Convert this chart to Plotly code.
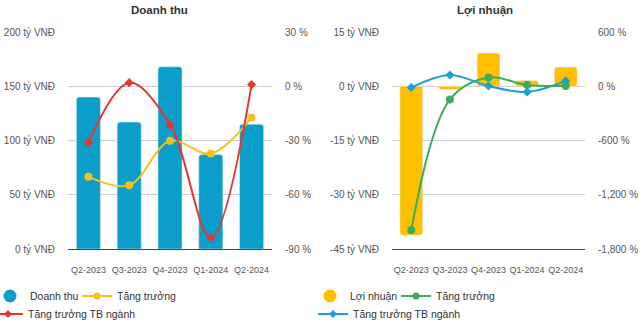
import plotly.graph_objects as go

# Quarterly periods
quarters = ["Q2-2023", "Q3-2023", "Q4-2023", "Q1-2024", "Q2-2024"]

# Revenue panel (tỷ VNĐ and %)
doanh_thu = [140, 117, 168, 87, 115]
tang_truong_dt = [-50.1, -54.7, -30.2, -37.2, -17.3]
tb_nganh_dt = [-31.1, 2.0, -21.2, -83.8, 0.9]

# Profit panel (tỷ VNĐ and %)
loi_nhuan = [-41.2, -0.9, 9.2, 1.6, 5.3]
tang_truong_ln = [-1591, -147, 96, 14, 3]
tb_nganh_ln = [-14, 125, 3, -63, 59]

# Axis tick labels
dt_ticks = [0, 50, 100, 150, 200]
dt_ticktext = ["0 tỷ VNĐ", "50 tỷ VNĐ", "100 tỷ VNĐ", "150 tỷ VNĐ", "200 tỷ VNĐ"]
dt_pct_ticks = [-90, -60, -30, 0, 30]
dt_pct_ticktext = ["-90 %", "-60 %", "-30 %", "0 %", "30 %"]
ln_ticks = [-45, -30, -15, 0, 15]
ln_ticktext = ["-45 tỷ VNĐ", "-30 tỷ VNĐ", "-15 tỷ VNĐ", "0 tỷ VNĐ", "15 tỷ VNĐ"]
ln_pct_ticks = [-1800, -1200, -600, 0, 600]
ln_pct_ticktext = ["-1,800 %", "-1,200 %", "-600 %", "0 %", "600 %"]

BLUE_BAR = "#0b9ecb"
YELLOW = "#ffc000"
YELLOW_LINE = "#f6c21a"
RED = "#e8352f"
GREEN = "#3dab5e"
BLUE_LINE = "#1a9fd6"
FONT = "Liberation Sans, Arial, sans-serif"

fig = go.Figure()

# ---- Revenue panel ----
fig.add_trace(go.Bar(x=quarters, y=doanh_thu, marker_color=BLUE_BAR, width=0.59,
                     xaxis="x", yaxis="y", showlegend=False, hoverinfo="skip"))
fig.add_trace(go.Scatter(x=quarters, y=tang_truong_dt, mode="lines+markers",
                         line=dict(color=YELLOW_LINE, width=2, shape="spline", smoothing=1),
                         marker=dict(size=8, color=YELLOW_LINE),
                         xaxis="x", yaxis="y2", showlegend=False))
fig.add_trace(go.Scatter(x=quarters, y=tb_nganh_dt, mode="lines+markers",
                         line=dict(color=RED, width=2, shape="spline", smoothing=1),
                         marker=dict(size=7, color=RED, symbol="diamond"),
                         xaxis="x", yaxis="y2", showlegend=False))

# ---- Profit panel ----
fig.add_trace(go.Bar(x=quarters, y=loi_nhuan, marker_color=YELLOW, width=0.59,
                     xaxis="x2", yaxis="y3", showlegend=False, hoverinfo="skip"))
fig.add_trace(go.Scatter(x=quarters, y=tb_nganh_ln, mode="lines+markers",
                         line=dict(color=BLUE_LINE, width=2, shape="spline", smoothing=1),
                         marker=dict(size=7, color=BLUE_LINE, symbol="diamond"),
                         xaxis="x2", yaxis="y4", showlegend=False))
fig.add_trace(go.Scatter(x=quarters, y=tang_truong_ln, mode="lines+markers",
                         line=dict(color=GREEN, width=2, shape="spline", smoothing=1),
                         marker=dict(size=8, color=GREEN),
                         xaxis="x2", yaxis="y4", showlegend=False))

# ---- Legend entries (one legend per entry for precise placement) ----
def legend_entry(name, color, legend, mode, symbol="circle", size=8):
    fig.add_trace(go.Scatter(x=[None], y=[None], name=name, mode=mode,
                             line=dict(color=color, width=2),
                             marker=dict(color=color, size=size, symbol=symbol),
                             xaxis="x", yaxis="y", legend=legend, showlegend=True))

legend_entry("Doanh thu", BLUE_BAR, "legend", "markers", size=13)
legend_entry("Tăng trưởng", YELLOW_LINE, "legend2", "lines+markers", size=7)
legend_entry("Tăng trưởng TB ngành", RED, "legend3", "lines+markers", symbol="diamond", size=6)
legend_entry("Lợi nhuận", YELLOW, "legend4", "markers", size=13)
legend_entry("Tăng trưởng", GREEN, "legend5", "lines+markers", size=7)
legend_entry("Tăng trưởng TB ngành", BLUE_LINE, "legend6", "lines+markers", symbol="diamond", size=6)

W, H = 640, 323
def px(v):
    return v / W
def py(v):
    return 1 - v / H

ydom = [py(249), py(32)]
grid = "#cfcfcf"
tickfont = dict(family=FONT, size=10, color="#555555")
catfont = dict(family=FONT, size=9, color="#555555")

def legend_layout(x, y, indent=0):
    return dict(x=px(x), y=py(y), xanchor="left", yanchor="middle",
                orientation="h", bgcolor="rgba(0,0,0,0)", indentation=indent,
                font=dict(family=FONT, size=10.5, color="#333333"),
                itemclick=False, itemdoubleclick=False)

common_x = dict(type="category", range=[-0.5, 4.5], showgrid=False, showline=True,
                linecolor="#444444", linewidth=1, ticks="", tickangle=0,
                tickfont=catfont, ticklabelstandoff=12, fixedrange=True,
                automargin=False)
common_y = dict(showgrid=True, gridcolor=grid, zeroline=False, tickfont=tickfont,
                ticklabelstandoff=12, fixedrange=True, automargin=False)
common_y2 = dict(side="right", showgrid=False, zeroline=False, tickfont=tickfont,
                 ticklabelstandoff=12, fixedrange=True, automargin=False)

fig.update_layout(
    width=W, height=H,
    margin=dict(l=0, r=0, t=0, b=0, autoexpand=False),
    paper_bgcolor="white", plot_bgcolor="white",
    font=dict(family=FONT, color="#333333"),
    barcornerradius=3,
    xaxis=dict(domain=[px(68), px(272)], anchor="y", **common_x),
    yaxis=dict(domain=ydom, anchor="x", range=[0, 200], tickvals=dt_ticks,
               ticktext=dt_ticktext, **common_y),
    yaxis2=dict(anchor="x", overlaying="y", range=[-90, 30],
                tickvals=dt_pct_ticks, ticktext=dt_pct_ticktext, **common_y2),
    xaxis2=dict(domain=[px(392), px(585)], anchor="y3", **common_x),
    yaxis3=dict(domain=ydom, anchor="x2", range=[-45, 15], tickvals=ln_ticks,
                ticktext=ln_ticktext, **common_y),
    yaxis4=dict(anchor="x2", overlaying="y3", range=[-1800, 600],
                tickvals=ln_pct_ticks, ticktext=ln_pct_ticktext, **common_y2),
    legend=legend_layout(0, 296, indent=-10),
    legend2=legend_layout(77, 296),
    legend3=legend_layout(0, 314, indent=-12),
    legend4=legend_layout(310, 296),
    legend5=legend_layout(396, 296),
    legend6=legend_layout(313, 314),
    annotations=[
        dict(text="<b>Doanh thu</b>", x=px(159), y=py(10), xref="paper", yref="paper",
             showarrow=False, xanchor="center", yanchor="middle",
             font=dict(family=FONT, size=11.5, color="#333333")),
        dict(text="<b>Lợi nhuận</b>", x=px(485), y=py(10), xref="paper", yref="paper",
             showarrow=False, xanchor="center", yanchor="middle",
             font=dict(family=FONT, size=11.5, color="#333333")),
    ],
)

fig.write_html("out.html")
